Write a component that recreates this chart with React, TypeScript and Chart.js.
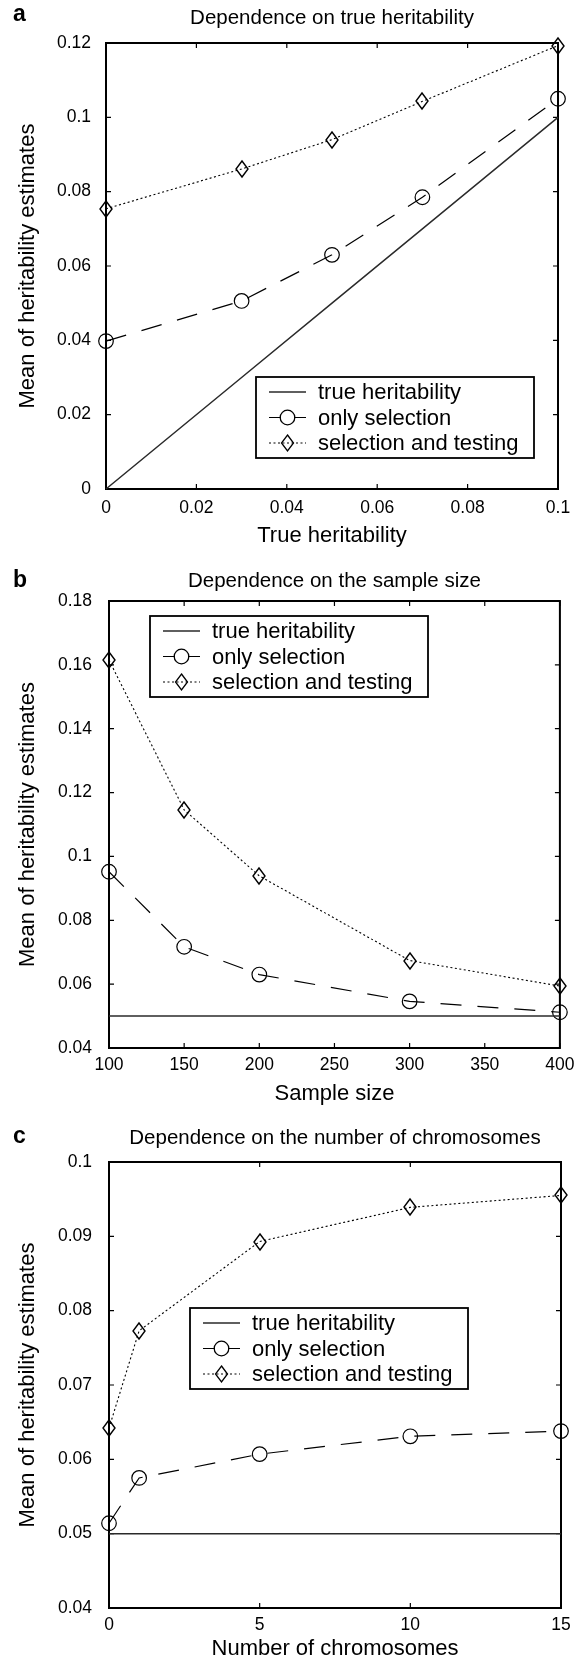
import React, { useEffect, useRef } from "react";
import { Chart, registerables } from "chart.js";
Chart.register(...registerables);

// ---------- data ----------
const heritX = [0, 0.03, 0.05, 0.07, 0.1];
const heritTrue = [0, 0.03, 0.05, 0.07, 0.1];
const heritOnlySel = [0.0398, 0.0506, 0.063, 0.0785, 0.105];
const heritSelTest = [0.0754, 0.0861, 0.094, 0.1043, 0.1193];

const sampleX = [100, 150, 200, 300, 400];
const sampleTrue = [0.05, 0.05, 0.05, 0.05, 0.05];
const sampleOnlySel = [0.0952, 0.0717, 0.063, 0.0546, 0.0512];
const sampleSelTest = [0.1615, 0.1146, 0.0939, 0.0674, 0.0594];

const chromX = [0, 1, 5, 10, 15];
const chromTrue = [0.05, 0.05, 0.05, 0.05, 0.05];
const chromOnlySel = [0.0514, 0.0575, 0.0607, 0.0631, 0.0638];
const chromSelTest = [0.0642, 0.0773, 0.0893, 0.0939, 0.0955];

const seriesNames = ["true heritability", "only selection", "selection and testing"];
const panelLetters = ["a", "b", "c"];
const panelTitles = [
  "Dependence on true heritability",
  "Dependence on the sample size",
  "Dependence on the number of chromosomes",
];
const xTitles = ["True heritability", "Sample size", "Number of chromosomes"];
const yTitle = "Mean of heritability estimates";

// axis ranges: [min, max, step]
const xRanges = [
  [0, 0.1, 0.02],
  [100, 400, 50],
  [0, 15, 5],
];
const yRanges = [
  [0, 0.12, 0.02],
  [0.04, 0.18, 0.02],
  [0.04, 0.1, 0.01],
];

// ---------- styles / layout ----------
const FONT = "'Liberation Sans', Arial, Helvetica, sans-serif";
Chart.defaults.font.family = FONT;

const seriesStyles = [
  { color: "#2a2a2a", width: 1.5, dash: [] as number[], point: "none", r: 0 },
  { color: "#000000", width: 1.2, dash: [21, 16], point: "circle", r: 7.3 },
  { color: "#000000", width: 1.1, dash: [2, 2.5], point: "diamond", r: 8 },
];

const layouts = [
  { height: 560, top: 43, bottom: 489, left: 106, right: 558, yTickPad: 15, xTickPad: 8.5, xTitleGap: 47, titleOff: 25, letterOff: 28, legend: { x: 256, y: 377 } },
  { height: 560, top: 41, bottom: 488, left: 109, right: 561, yTickPad: 17, xTickPad: 6.5, xTitleGap: 46, titleOff: 20, letterOff: 20, legend: { x: 150, y: 56 } },
  { height: 539, top: 42, bottom: 488, left: 109, right: 561, yTickPad: 17, xTickPad: 6.5, xTitleGap: 41, titleOff: 24, letterOff: 25, legend: { x: 190, y: 188 } },
];

const panelSeries = [
  { xs: heritX, vals: [heritTrue, heritOnlySel, heritSelTest] },
  { xs: sampleX, vals: [sampleTrue, sampleOnlySel, sampleSelTest] },
  { xs: chromX, vals: [chromTrue, chromOnlySel, chromSelTest] },
];

const fmt = (v: any) => String(+Number(v).toFixed(4));

// tall, narrow diamond marker (MATLAB style)
const DIA_HW = 6;
const DIA_HH = 8;
function makeDiamond(): HTMLCanvasElement {
  const c = document.createElement("canvas");
  const w = DIA_HW * 2 + 4;
  const h = DIA_HH * 2 + 4;
  c.width = w;
  c.height = h;
  const g = c.getContext("2d")!;
  const cx = w / 2;
  const cy = h / 2;
  g.strokeStyle = "#000";
  g.lineWidth = 1.4;
  g.beginPath();
  g.moveTo(cx, cy - DIA_HH);
  g.lineTo(cx + DIA_HW, cy);
  g.lineTo(cx, cy + DIA_HH);
  g.lineTo(cx - DIA_HW, cy);
  g.closePath();
  g.stroke();
  return c;
}

function drawMarker(ctx: CanvasRenderingContext2D, kind: string, x: number, y: number, r: number) {
  if (kind === "circle") {
    ctx.beginPath();
    ctx.arc(x, y, r, 0, Math.PI * 2);
    ctx.stroke();
  } else if (kind === "diamond") {
    ctx.beginPath();
    ctx.moveTo(x, y - DIA_HH);
    ctx.lineTo(x + DIA_HW, y);
    ctx.lineTo(x, y + DIA_HH);
    ctx.lineTo(x - DIA_HW, y);
    ctx.closePath();
    ctx.stroke();
  }
}

const framePlugin = {
  id: "frame",
  beforeDatasetsDraw(chart: any) {
    const { ctx, chartArea } = chart;
    const { left, right, top, bottom } = chartArea;
    const xs = chart.scales.x;
    const ys = chart.scales.y;
    ctx.save();
    ctx.strokeStyle = "#000";
    ctx.lineWidth = 1.2;
    const tl = 5;
    ctx.beginPath();
    ys.ticks.forEach((t: any) => {
      const py = ys.getPixelForValue(t.value);
      ctx.moveTo(left, py);
      ctx.lineTo(left + tl, py);
      ctx.moveTo(right, py);
      ctx.lineTo(right - tl, py);
    });
    xs.ticks.forEach((t: any) => {
      const px = xs.getPixelForValue(t.value);
      ctx.moveTo(px, bottom);
      ctx.lineTo(px, bottom - tl);
      ctx.moveTo(px, top);
      ctx.lineTo(px, top + tl);
    });
    ctx.stroke();
    ctx.lineWidth = 2;
    ctx.strokeRect(left, top, right - left, bottom - top);
    ctx.restore();
    // crisp image markers
    ctx.imageSmoothingEnabled = false;
  },
  afterDraw(chart: any, _args: any, opts: any) {
    const { ctx, chartArea } = chart;
    ctx.imageSmoothingEnabled = true;
    ctx.save();
    ctx.fillStyle = "#000";
    // title
    ctx.font = `20.5px ${FONT}`;
    ctx.textAlign = "center";
    ctx.textBaseline = "middle";
    ctx.fillText(opts.title, (chartArea.left + chartArea.right) / 2, chartArea.top - opts.titleOff);
    // panel letter
    ctx.font = `bold 23px ${FONT}`;
    ctx.textAlign = "left";
    ctx.fillText(opts.letter, 13, chartArea.top - opts.letterOff);
    // legend box
    const lg = opts.legend;
    const w = 278;
    const h = 81;
    ctx.fillStyle = "#fff";
    ctx.fillRect(lg.x, lg.y, w, h);
    ctx.strokeStyle = "#000";
    ctx.lineWidth = 1.8;
    ctx.strokeRect(lg.x, lg.y, w, h);
    const rows = [15, 40.5, 66];
    seriesNames.forEach((name, i) => {
      const st = seriesStyles[i];
      const y0 = lg.y + rows[i];
      ctx.strokeStyle = st.color;
      ctx.lineWidth = st.width;
      ctx.setLineDash(i === 1 ? [12, 13] : st.dash);
      ctx.beginPath();
      ctx.moveTo(lg.x + 13, y0);
      ctx.lineTo(lg.x + 50, y0);
      ctx.stroke();
      ctx.setLineDash([]);
      ctx.lineWidth = 1.3;
      ctx.strokeStyle = "#000";
      drawMarker(ctx, st.point, lg.x + 31.5, y0, st.r);
      ctx.fillStyle = "#000";
      ctx.font = `22px ${FONT}`;
      ctx.textAlign = "left";
      ctx.textBaseline = "middle";
      ctx.fillText(name, lg.x + 62, y0 + 1);
    });
    ctx.restore();
  },
};

function Panel({ idx }: { idx: number }) {
  const ref = useRef<HTMLCanvasElement>(null);
  const L = layouts[idx];
  useEffect(() => {
    const canvas = ref.current!;
    const ser = panelSeries[idx];
    const [xMin, xMax, xStep] = xRanges[idx];
    const [yMin, yMax, yStep] = yRanges[idx];
    const xTitleH = L.xTitleGap + 9.9;
    const diamond = makeDiamond();
    const datasets = ser.vals.map((vals, i) => {
      const st = seriesStyles[i];
      return {
        label: seriesNames[i],
        data: ser.xs.map((x, j) => ({ x, y: vals[j] })),
        borderColor: st.color,
        borderWidth: st.width,
        borderDash: st.dash,
        backgroundColor: "rgba(0,0,0,0)",
        fill: false,
        tension: 0,
        clip: false as any,
        pointRadius: st.point === "none" ? 0 : st.r,
        pointHoverRadius: st.point === "none" ? 0 : st.r,
        pointStyle: st.point === "diamond" ? diamond : "circle",
        pointBorderColor: "#000",
        pointBackgroundColor: "rgba(0,0,0,0)",
        pointBorderWidth: 1.2,
      };
    });
    const chart = new Chart(canvas, {
      type: "line",
      data: { datasets: datasets as any },
      plugins: [framePlugin as any],
      options: {
        animation: false,
        responsive: false,
        devicePixelRatio: 1,
        events: [],
        layout: {
          padding: {
            left: 0,
            top: L.top,
            right: 581 - L.right,
            bottom: L.height - L.bottom - xTitleH,
          },
        },
        plugins: {
          legend: { display: false },
          tooltip: { enabled: false },
          title: { display: false },
          frame: {
            title: panelTitles[idx],
            letter: panelLetters[idx],
            legend: L.legend,
            titleOff: L.titleOff,
            letterOff: L.letterOff,
          },
        } as any,
        scales: {
          x: {
            type: "linear",
            min: xMin,
            max: xMax,
            border: { display: false },
            grid: { display: false, drawTicks: false },
            ticks: {
              stepSize: xStep,
              padding: L.xTickPad,
              color: "#000",
              font: { size: 17.5 },
              callback: fmt,
              maxRotation: 0,
              autoSkip: false,
            },
            title: {
              display: true,
              text: xTitles[idx],
              color: "#000",
              font: { size: 22, lineHeight: 0.9 },
              padding: { top: 0, bottom: 0 },
            },
            afterFit: (s: any) => {
              s.height = xTitleH;
            },
          },
          y: {
            type: "linear",
            min: yMin,
            max: yMax,
            border: { display: false },
            grid: { display: false, drawTicks: false },
            ticks: {
              stepSize: yStep,
              padding: L.yTickPad,
              color: "#000",
              font: { size: 17.5 },
              callback: fmt,
              autoSkip: false,
            },
            title: {
              display: true,
              text: yTitle,
              color: "#000",
              font: { size: 22, lineHeight: 1.2 },
              padding: { top: 14.8, bottom: 0 },
            },
            afterFit: (s: any) => {
              s.width = L.left;
            },
          },
        },
      } as any,
    });
    return () => chart.destroy();
  }, [idx]);
  return (
    <canvas
      ref={ref}
      width={581}
      height={L.height}
      style={{ display: "block", width: 581, height: L.height }}
    />
  );
}

export default function App() {
  return (
    <div
      style={{
        position: "absolute",
        left: 0,
        top: 0,
        width: 581,
        height: 1659,
        overflow: "hidden",
        background: "#fff",
      }}
    >
      {[0, 1, 2].map((i) => (
        <Panel key={i} idx={i} />
      ))}
    </div>
  );
}
